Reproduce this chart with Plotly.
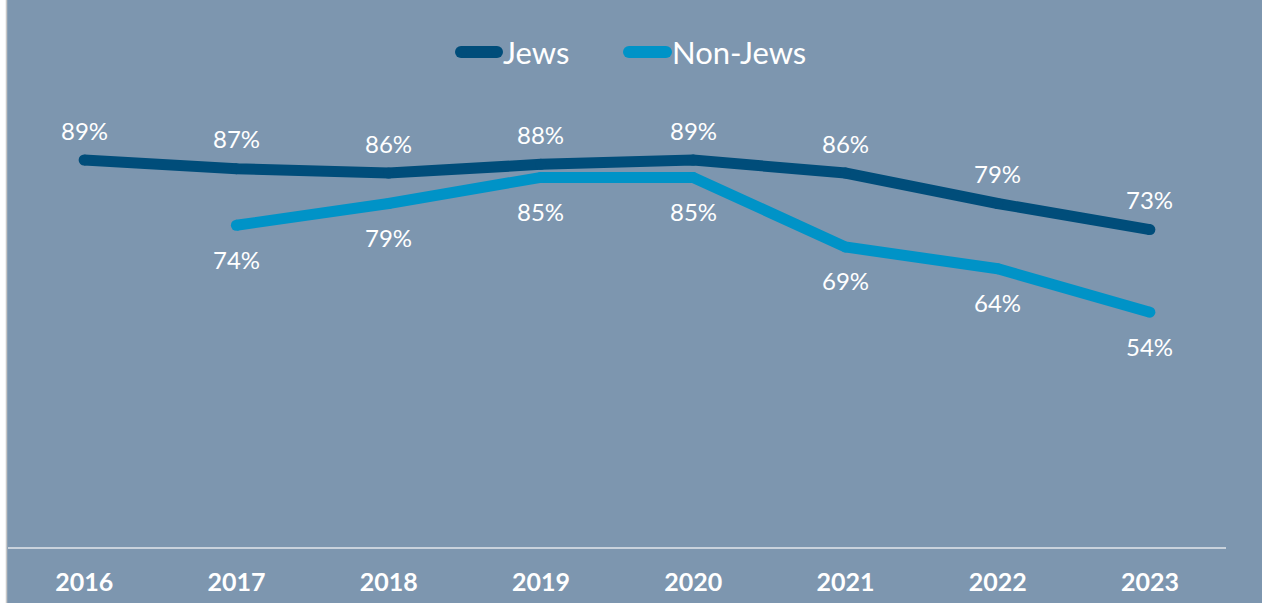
import plotly.graph_objects as go

years = ["2016", "2017", "2018", "2019", "2020", "2021", "2022", "2023"]
jews = [89, 87, 86, 88, 89, 86, 79, 73]
non_jews = [None, 74, 79, 85, 85, 69, 64, 54]

series_names = ["Jews", "Non-Jews"]
series_colors = ["#004d7a", "#0093c7"]

BG = "#7d96af"
FONT = "Lato"

W, H = 1262, 603
ML, MR, MT, MB = 8, 36, 0, 56
PW, PH = W - ML - MR, H - MT - MB

fig = go.Figure()

for name, vals, color in zip(series_names, [jews, non_jews], series_colors):
    fig.add_trace(go.Scatter(
        x=years, y=vals, name=name, mode="lines+markers",
        line=dict(color=color, width=11),
        marker=dict(color=color, size=11),
        connectgaps=False, showlegend=False, hoverinfo="skip",
    ))

# value labels: category axis positions are the serial index of each year
annotations = []
for name, vals, shift in zip(series_names, [jews, non_jews], [30, -34]):
    for i, v in enumerate(vals):
        if v is None:
            continue
        annotations.append(dict(
            xref="x", yref="y", x=i, y=v, text=f"{v}%",
            showarrow=False, yshift=shift,
            font=dict(family=FONT, size=24, color="white"),
            xanchor="center", yanchor="middle",
        ))

# custom legend: thick rounded swatch followed by the series name
shapes = []
legend_y = (PH - 52) / PH
legend_items = [(455, 503), (623, 672)]
r = 6
for (x0, x1), name, color in zip(legend_items, series_names, series_colors):
    xa = (x0 - ML) / PW
    length = x1 - x0
    shapes.append(dict(type="rect", xref="paper", yref="paper",
                       xsizemode="pixel", ysizemode="pixel",
                       xanchor=xa, yanchor=legend_y,
                       x0=r, x1=length - r, y0=-r, y1=r,
                       fillcolor=color, line=dict(width=0)))
    for cx in (r, length - r):
        shapes.append(dict(type="circle", xref="paper", yref="paper",
                           xsizemode="pixel", ysizemode="pixel",
                           xanchor=xa, yanchor=legend_y,
                           x0=cx - r, x1=cx + r, y0=-r, y1=r,
                           fillcolor=color, line=dict(width=0)))
    annotations.append(dict(
        x=(x1 - 2 - ML) / PW, y=legend_y, xref="paper", yref="paper",
        text=name, showarrow=False, xanchor="left", yanchor="middle",
        font=dict(family=FONT, size=31, color="white"),
    ))

# white strip down the left edge of the page
shapes.append(dict(type="rect", xref="paper", yref="paper",
                   x0=-ML / PW, x1=-1.5 / PW, y0=-MB / PH - 0.01, y1=1.01,
                   fillcolor="white", line=dict(width=0), layer="above"))
shapes.append(dict(type="line", xref="paper", yref="paper",
                   x0=-1.5 / PW, x1=-1.5 / PW, y0=-MB / PH - 0.01, y1=1.01,
                   line=dict(color="#c8c8c8", width=1.5), layer="above"))

fig.update_layout(
    width=W, height=H,
    margin=dict(l=ML, r=MR, t=MT, b=MB),
    paper_bgcolor=BG, plot_bgcolor=BG,
    showlegend=False,
    annotations=annotations,
    shapes=shapes,
    xaxis=dict(
        type="category", range=[-0.5, 7.5],
        showgrid=False, zeroline=False,
        showline=True, linecolor="#c9d2dc", linewidth=2,
        ticks="outside", ticklen=12, tickcolor="rgba(0,0,0,0)",
        tickfont=dict(family=FONT, size=25, color="white", weight="bold"),
    ),
    yaxis=dict(
        range=[0, 125.8], showgrid=False, zeroline=False,
        showline=False, showticklabels=False, ticks="",
    ),
)

fig.write_html("out.html")
